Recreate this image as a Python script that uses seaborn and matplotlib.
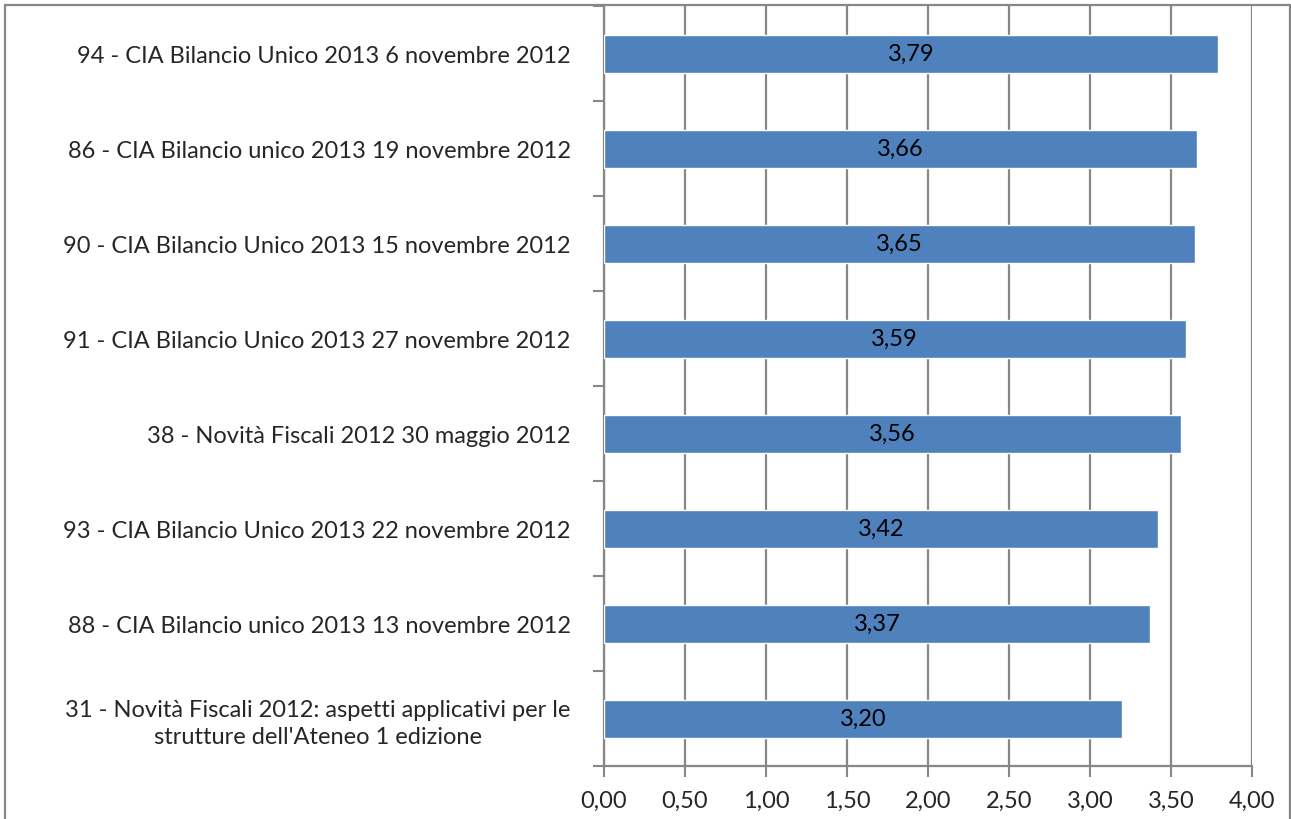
import matplotlib
matplotlib.use("Agg")
import matplotlib.pyplot as plt
import seaborn as sns
import pandas as pd
from matplotlib.patches import Rectangle
from matplotlib.ticker import FixedLocator

# =========================
# DATA
# =========================
corsi = [
    "94 - CIA Bilancio Unico 2013 6 novembre 2012",
    "86 - CIA Bilancio unico 2013 19 novembre 2012",
    "90 - CIA Bilancio Unico 2013 15 novembre 2012",
    "91 - CIA Bilancio Unico 2013 27 novembre 2012",
    "38 - Novità Fiscali 2012 30 maggio 2012",
    "93 - CIA Bilancio Unico 2013 22 novembre 2012",
    "88 - CIA Bilancio unico 2013 13 novembre 2012",
    "31 - Novità Fiscali 2012: aspetti applicativi per le\nstrutture dell'Ateneo 1 edizione",
]
valutazioni = [3.79, 3.66, 3.65, 3.59, 3.56, 3.42, 3.37, 3.20]
x_ticks = [0, 0.5, 1.0, 1.5, 2.0, 2.5, 3.0, 3.5, 4.0]
x_tick_labels = ["0,00", "0,50", "1,00", "1,50", "2,00", "2,50", "3,00", "3,50", "4,00"]

df = pd.DataFrame({"corso": corsi, "valore": valutazioni})

# =========================
# STYLE
# =========================
sns.set_theme(style="white")
plt.rcParams["font.family"] = ["Lato", "DejaVu Sans"]

grey = "#878787"
fs = 17
fig = plt.figure(figsize=(12.91, 8.20), dpi=100)
ax = fig.add_axes([604 / 1291, 1 - 767 / 820, (1252 - 604) / 1291, (767 - 7) / 820])

sns.barplot(data=df, x="valore", y="corso", orient="h", color="#4F81BD",
            width=0.4, saturation=1, ax=ax, zorder=3)

ax.bar_label(ax.containers[0],
             labels=[f"{v:.2f}".replace(".", ",") for v in valutazioni],
             label_type="center", fontsize=fs, color="black")

# =========================
# AXES
# =========================
ax.set_xlim(0, 4)
ax.set_ylim(len(corsi) - 0.5, -0.5)
ax.set_xticks(x_ticks)
ax.set_xticklabels(x_tick_labels, fontsize=fs)
ax.set_xlabel("")
ax.set_ylabel("")

ax.xaxis.grid(True, color=grey, linewidth=1.6, zorder=0)
ax.yaxis.grid(False)
ax.set_axisbelow(True)

for lbl in ax.get_yticklabels():
    lbl.set_fontsize(fs)
    lbl.set_multialignment("center")
    lbl.set_linespacing(1.35)

ax.tick_params(axis="y", which="major", length=0, pad=24)
ax.yaxis.set_minor_locator(FixedLocator([i - 0.5 for i in range(len(corsi) + 1)]))
ax.tick_params(axis="y", which="minor", length=8, width=1.5, color=grey, left=True)
ax.tick_params(axis="x", which="major", length=8, width=1.5, color=grey,
               bottom=True, pad=9)

for side in ["top", "right"]:
    ax.spines[side].set_visible(False)
for side in ["left", "bottom"]:
    ax.spines[side].set_color(grey)
    ax.spines[side].set_linewidth(1.6)

# outer chart border
fig.patches.append(Rectangle((5 / 1291, -0.05), (1290 - 5) / 1291, 1.05 - 6 / 820,
                             transform=fig.transFigure, fill=False,
                             edgecolor=grey, linewidth=1.6))

fig.savefig("out.png", dpi=100)
